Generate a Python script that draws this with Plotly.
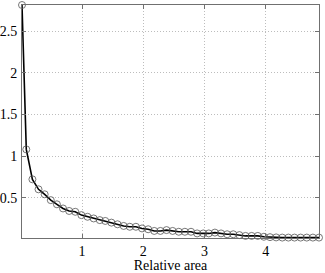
import plotly.graph_objects as go

x_area = [0.02, 0.09, 0.19, 0.29, 0.39, 0.49, 0.59, 0.69, 0.79, 0.89, 0.99,
          1.09, 1.19, 1.29, 1.38, 1.48, 1.58, 1.68, 1.78, 1.88, 1.98,
          2.08, 2.18, 2.28, 2.38, 2.48, 2.58, 2.68, 2.78, 2.88, 2.98,
          3.07, 3.17, 3.27, 3.37, 3.47, 3.57, 3.67, 3.77, 3.87, 3.97,
          4.07, 4.17, 4.27, 4.37, 4.47, 4.57, 4.67, 4.77, 4.87]
y_vals = [2.815, 1.08, 0.72, 0.60, 0.54, 0.47, 0.42, 0.37, 0.34, 0.33, 0.29,
          0.27, 0.25, 0.23, 0.22, 0.20, 0.18, 0.16, 0.15, 0.15, 0.13,
          0.12, 0.10, 0.10, 0.11, 0.10, 0.09, 0.09, 0.09, 0.07, 0.07,
          0.07, 0.08, 0.07, 0.06, 0.06, 0.05, 0.04, 0.04, 0.04, 0.03,
          0.025, 0.022, 0.02, 0.02, 0.02, 0.02, 0.02, 0.02, 0.02]
x_ticks = [1, 2, 3, 4]
y_ticks = [0.5, 1, 1.5, 2, 2.5]
y_tick_text = ["0.5", "1", "1.5", "2", "2.5"]

SERIF = "Liberation Serif, Times New Roman, serif"

fig = go.Figure()
fig.add_trace(go.Scatter(
    x=x_area, y=y_vals, mode="lines",
    line=dict(color="black", width=1.6),
    cliponaxis=False, showlegend=False))
fig.add_trace(go.Scatter(
    x=x_area, y=y_vals, mode="markers",
    marker=dict(symbol="circle-open", size=7, color="#555555", line=dict(width=0.8)),
    cliponaxis=False, showlegend=False))

axis_common = dict(
    showline=True, linecolor="#707070", linewidth=1, mirror="ticks",
    ticks="inside", ticklen=4, tickcolor="#707070",
    showgrid=True, gridcolor="#bdbdbd", griddash="1px,2px", gridwidth=1,
    zeroline=False, automargin=False,
    tickfont=dict(family=SERIF, size=14, color="black"),
)

fig.update_layout(
    width=325, height=273,
    margin=dict(l=22, r=6, t=5, b=35),
    paper_bgcolor="white", plot_bgcolor="white",
    font=dict(family=SERIF),
    xaxis=dict(range=[0.02, 4.87], tickvals=x_ticks, ticklabelstandoff=0,
               title=dict(text="Relative area", standoff=3,
                          font=dict(family=SERIF, size=14, color="black")),
               **axis_common),
    yaxis=dict(range=[0.015, 2.815], tickvals=y_ticks, ticktext=y_tick_text,
               ticklabelstandoff=1, **axis_common),
)

fig.write_html("out.html", config={"displayModeBar": False},
               post_script="document.body.style.margin='0';document.body.style.overflow='hidden';")
